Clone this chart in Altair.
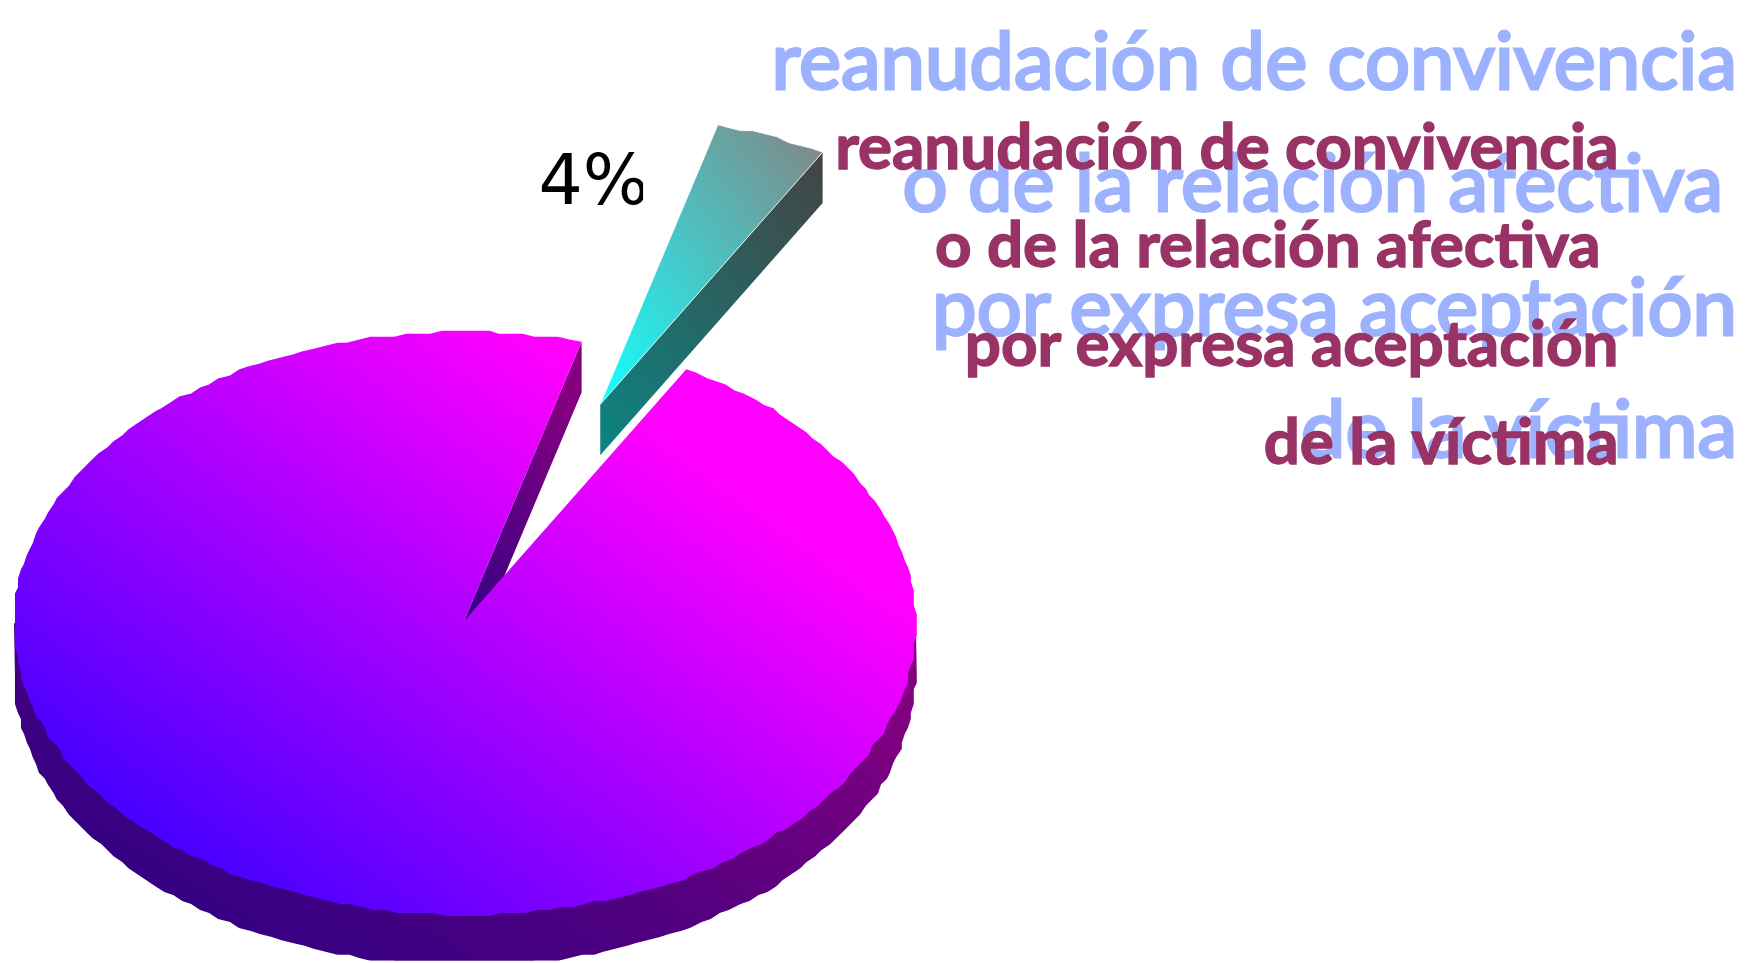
import math
import altair as alt

# ---- data
categories = ["otros", "reanudación de convivencia o de la relación afectiva por expresa aceptación de la víctima"]
shares = [96, 4]
start_angle = 15.0
label_text = "4%"
blue_lines = ["reanudación de convivencia", "o de la relación afectiva", "por expresa aceptación", "de la víctima"]
red_lines = ["reanudación de convivencia", "o de la relación afectiva", "por expresa aceptación", "de la víctima"]

# ---- layout
W, H = 1747, 963
CX, CY, RX, RY = 467, 624, 453, 293
DEPTH = 51
EXPLODE = (137, -218)
STEP = 3


def pt(deg, dx=0, dy=0, snap=True):
    a = math.radians(deg)
    x = CX + RX * math.sin(a) + dx
    y = CY - RY * math.cos(a) + dy
    if snap:
        x = round(x / STEP) * STEP
        y = round(y / STEP) * STEP
    return [x, y]


def arc(a0, a1, dx=0, dy=0, n=None):
    n = n or max(2, int(abs(a1 - a0) / 1.5))
    return [pt(a0 + (a1 - a0) * i / n, dx, dy) for i in range(n + 1)]


def feature(ring):
    ring = ring + [ring[0]]
    return {"type": "Feature", "properties": {}, "geometry": {"type": "Polygon", "coordinates": [ring]}}


def gradient(stops, x1=0, y1=1, x2=1, y2=0):
    return alt.LinearGradient(
        gradient="linear", x1=x1, y1=y1, x2=x2, y2=y2,
        stops=[alt.GradientStop(offset=o, color=c) for o, c in stops],
    )


proj = alt.Projection(type="identity", scale=1, translate=[-8, -8])


def shape(ring, fill, **kw):
    return alt.Chart(alt.Data(values=[feature(ring)])).mark_geoshape(fill=fill, strokeWidth=kw.pop("sw", 0), **kw).project(**proj.to_dict())


a_start = start_angle
a_end = a_start + 360 * shares[1] / sum(shares)
C = [CX - 1, CY - 2]
P_l = pt(a_start, snap=False)
P_r = pt(a_end, snap=False)

# rim: lower half of the ellipse, dropped by the depth
rim = [pt(90, snap=False)] + arc(90, 270, dy=DEPTH) + [pt(270, snap=False)]
rim_c = shape(rim, gradient([(0, "#2c0085"), (0.5, "#50007f"), (1, "#85007f")], 0, 0.8, 1, 0.2))

# notch wall
wall = [C, P_l, [P_l[0], P_l[1] + DEPTH], [C[0], C[1] + DEPTH]]
wall_c = shape(wall, gradient([(0, "#2a0085"), (1, "#85007f")], 0, 1, 0.6, 0))

# top face
top = [C, P_r] + arc(a_end, a_start + 360)[1:-1] + [P_l]
top_c = shape(top, gradient([(0.1, "#4000ff"), (0.78, "#ff00ff")], 0, 0.95, 1, 0.05))

# exploded slice
dx, dy = EXPLODE
S = [C[0] + dx, C[1] + dy]
S_l = [P_l[0] + dx, P_l[1] + dy]
S_r = [P_r[0] + dx, P_r[1] + dy]
s_wall = [S, S_r, [S_r[0], S_r[1] + DEPTH], [S[0], S[1] + DEPTH]]
s_wall_c = shape(s_wall, gradient([(0, "#0b8481"), (1, "#444444")], 0, 1, 1, 0))
s_top = [S, S_r] + arc(a_end, a_start, dx, dy)[1:-1] + [S_l]
s_top_c = shape(s_top, gradient([(0, "#14ffff"), (1, "#848484")], 0, 1, 1, 0), stroke="#ffffff", sw=0.8)

x_scale = alt.Scale(domain=[8, W], range=[0, W - 8], nice=False, zero=False)
y_scale = alt.Scale(domain=[8, H], range=[0, H - 8], nice=False, zero=False)


def text_layer(lines, xs, ys, size, color, weight, thick):
    rows = [{"t": t, "x": x, "y": y} for t, x, y in zip(lines, xs, ys)]
    return alt.Chart(alt.Data(values=rows)).mark_text(
        font="Lato", fontSize=size, fontWeight=weight, color=color, stroke=color, strokeWidth=thick,
        align="right", baseline="alphabetic",
    ).encode(
        x=alt.X("x:Q", scale=x_scale, axis=None),
        y=alt.Y("y:Q", scale=y_scale, axis=None),
        text="t:N",
    )


blue = text_layer(blue_lines, [1745, 1731, 1745, 1745], [87, 210, 334, 457], 80, "#9db2ff", "normal", 3)
red = text_layer(red_lines, [1626, 1608, 1626, 1626], [168, 266, 365, 464], 64, "#993366", "bold", 1.5)

pct = alt.Chart(alt.Data(values=[{"t": label_text, "x": 541, "y": 203}])).mark_text(
    font="DejaVu Sans", fontSize=70, color="#000000", align="left", baseline="alphabetic",
).encode(x=alt.X("x:Q", scale=x_scale, axis=None), y=alt.Y("y:Q", scale=y_scale, axis=None), text="t:N")

# the right edge of the label is cut off in the reference
mask = alt.Chart(alt.Data(values=[{"a": 646, "b": 670, "c": 140, "d": 215}])).mark_rect(color="#ffffff").encode(
    x=alt.X("a:Q", scale=x_scale, axis=None), x2="b:Q",
    y=alt.Y("c:Q", scale=y_scale, axis=None), y2="d:Q",
)

chart = alt.layer(
    rim_c, wall_c, top_c, s_wall_c, s_top_c, pct, mask, blue, red
).properties(
    width=W - 8, height=H - 8, padding=0,
    autosize=alt.AutoSizeParams(type="none"),
    background="#ffffff",
).configure_view(stroke=None)

chart.save("out.html", embed_options={"renderer": "svg", "actions": False})
